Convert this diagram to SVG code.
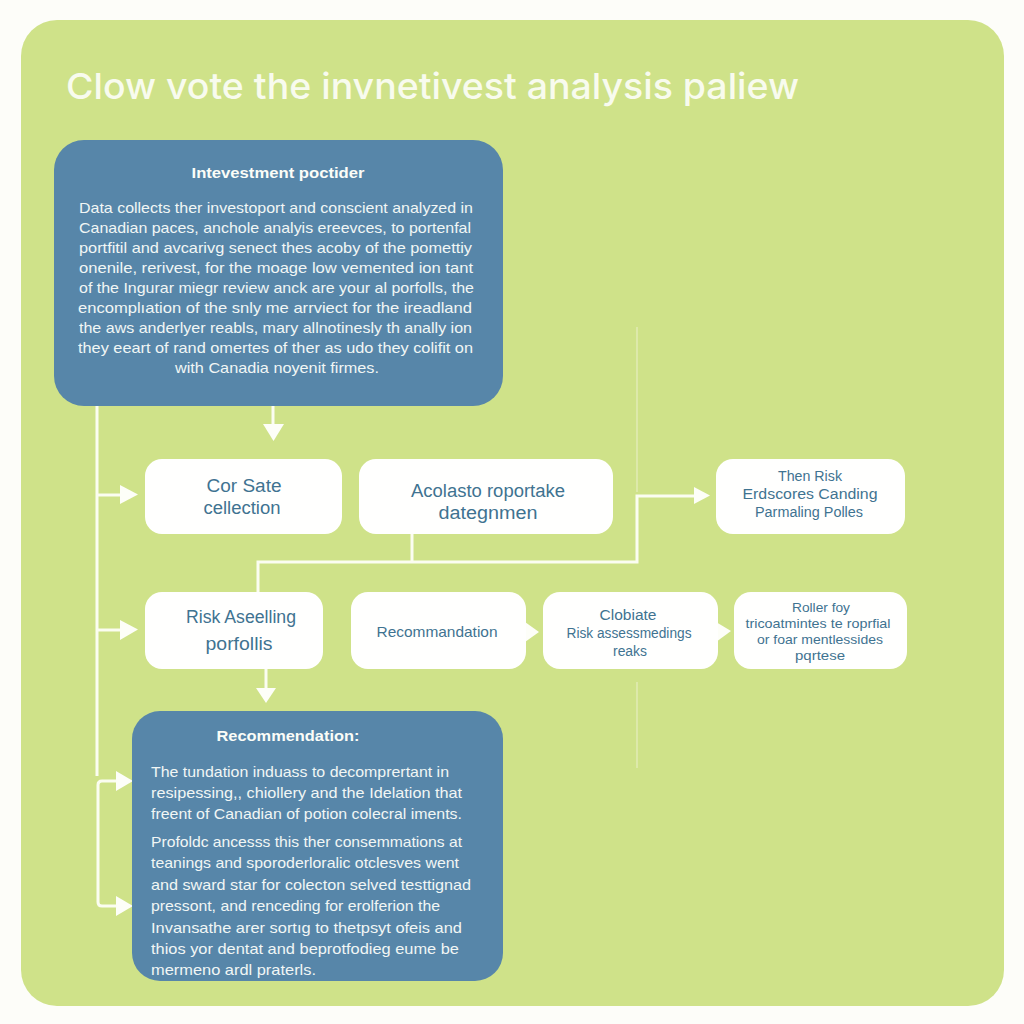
<svg xmlns="http://www.w3.org/2000/svg" width="1024" height="1024" viewBox="0 0 1024 1024">
<defs>
<style>
text{font-family:"Liberation Sans","Noto Sans",sans-serif}
.title{font-family:Inter,"Noto Sans",sans-serif;font-size:36px;font-weight:500;fill:#f8fbee}
.dark{fill:#5786a9}
.light{fill:#fffffe}
.head{fill:#fbfdf8;font-size:15px;font-weight:700;text-anchor:middle}
.body{fill:#f1f6f5;font-size:15px}
.mid{text-anchor:middle}
.lbl{fill:#3f7391;text-anchor:middle}
.line{fill:none;stroke:#fbfdf1;stroke-width:3}
.thin{fill:none;stroke:#e6efc0;stroke-width:1.2}
.head-arrow{fill:#fdfef8}
</style>
</defs>
<rect width="1024" height="1024" fill="#fdfdf9"/>
<rect x="21" y="20" width="983" height="986" rx="36" fill="#cfe289"/>
<text class="title" x="66" y="99" textLength="733" lengthAdjust="spacingAndGlyphs">Clow vote the invnetivest analysis paliew</text>

<g id="connectors">
<path class="thin" d="M637 327V492"/>
<path class="thin" d="M637 682V768"/>
<path class="line" d="M97 406V776"/>
<path class="line" d="M97 495H122"/>
<path class="line" d="M97 630H122"/>
<path class="line" d="M273 406V424"/>
<path class="line" d="M412 533V562"/>
<path class="line" d="M258 592V562H637V496H696"/>
<path class="line" d="M266 668V688"/>
<path class="line" d="M116 781H102Q98 781 98 785V902Q98 906 102 906H118"/>
<polygon class="head-arrow" points="263,424 284,424 273.500,441"/>
<polygon class="head-arrow" points="120,485 120,504 138,494.500"/>
<polygon class="head-arrow" points="120,620 120,640 138,629.500"/>
<polygon class="head-arrow" points="694,487 694,504 710,495.500"/>
<polygon class="head-arrow" points="256,688 276,688 266,703"/>
<polygon class="head-arrow" points="116,771 116,791 133,781"/>
<polygon class="head-arrow" points="116,896 116,916 133,906"/>
<polygon class="head-arrow" points="525,622 525,642 539,632"/>
<polygon class="head-arrow" points="716,622 716,642 731,631"/>
</g>

<g id="node-investment">
<rect class="dark" x="54" y="140" width="449" height="266" rx="30"/>
<text class="head" x="278" y="178" textLength="173" lengthAdjust="spacingAndGlyphs">Intevestment poctider</text>
<text class="body" x="79" y="213" textLength="394" lengthAdjust="spacingAndGlyphs">Data collects ther investoport and conscient analyzed in</text>
<text class="body" x="79" y="233" textLength="392" lengthAdjust="spacingAndGlyphs">Canadian paces, anchole analyis ereevces, to portenfal</text>
<text class="body" x="79" y="253" textLength="393" lengthAdjust="spacingAndGlyphs">portfitil and avcarivg senect thes acoby of the pomettiy</text>
<text class="body" x="79" y="273" textLength="394" lengthAdjust="spacingAndGlyphs">onenile, rerivest, for the moage low vemented ion tant</text>
<text class="body" x="79" y="293" textLength="395" lengthAdjust="spacingAndGlyphs">of the Ingurar miegr review anck are your al porfolls, the</text>
<text class="body" x="78" y="313" textLength="394" lengthAdjust="spacingAndGlyphs">encomplıation of the snly me arrviect for the ireadland</text>
<text class="body" x="79" y="333" textLength="393" lengthAdjust="spacingAndGlyphs">the aws anderlyer reabls, mary allnotinesly th anally ion</text>
<text class="body" x="78" y="353" textLength="395" lengthAdjust="spacingAndGlyphs">they eeart of rand omertes of ther as udo they colifit on</text>
<text class="body mid" x="277" y="373" textLength="204" lengthAdjust="spacingAndGlyphs">with Canadia noyenit firmes.</text>
</g>

<g id="node-core">
<rect class="light" x="145" y="459" width="197" height="75" rx="17"/>
<text class="lbl" x="244" y="492" font-size="18" textLength="75" lengthAdjust="spacingAndGlyphs">Cor Sate</text>
<text class="lbl" x="242" y="514" font-size="18" textLength="77" lengthAdjust="spacingAndGlyphs">cellection</text>
</g>
<g id="node-acolasto">
<rect class="light" x="359" y="459" width="254" height="75" rx="17"/>
<text class="lbl" x="488" y="497" font-size="18" textLength="154" lengthAdjust="spacingAndGlyphs">Acolasto roportake</text>
<text class="lbl" x="488" y="519" font-size="18" textLength="99" lengthAdjust="spacingAndGlyphs">dategnmen</text>
</g>
<g id="node-then-risk">
<rect class="light" x="716" y="459" width="189" height="75" rx="17"/>
<text class="lbl" x="810" y="481" font-size="14" textLength="64" lengthAdjust="spacingAndGlyphs">Then Risk</text>
<text class="lbl" x="810" y="499" font-size="14" textLength="135" lengthAdjust="spacingAndGlyphs">Erdscores Canding</text>
<text class="lbl" x="809" y="517" font-size="14" textLength="108" lengthAdjust="spacingAndGlyphs">Parmaling Polles</text>
</g>
<g id="node-risk">
<rect class="light" x="145" y="592" width="178" height="77" rx="17"/>
<text class="lbl" x="241" y="623" font-size="18" textLength="110" lengthAdjust="spacingAndGlyphs">Risk Aseelling</text>
<text class="lbl" x="239" y="650" font-size="18" textLength="67" lengthAdjust="spacingAndGlyphs">porfollis</text>
</g>
<g id="node-recommandation">
<rect class="light" x="351" y="592" width="175" height="77" rx="17"/>
<text class="lbl" x="437" y="637" font-size="15" textLength="121" lengthAdjust="spacingAndGlyphs">Recommandation</text>
</g>
<g id="node-clobiate">
<rect class="light" x="543" y="592" width="175" height="77" rx="17"/>
<text class="lbl" x="628" y="620" font-size="14" textLength="57" lengthAdjust="spacingAndGlyphs">Clobiate</text>
<text class="lbl" x="629" y="638" font-size="14" textLength="125" lengthAdjust="spacingAndGlyphs">Risk assessmedings</text>
<text class="lbl" x="630" y="656" font-size="14" textLength="34" lengthAdjust="spacingAndGlyphs">reaks</text>
</g>
<g id="node-roller">
<rect class="light" x="734" y="592" width="173" height="77" rx="17"/>
<text class="lbl" x="821" y="612" font-size="13" textLength="58" lengthAdjust="spacingAndGlyphs">Roller foy</text>
<text class="lbl" x="818" y="628" font-size="13" textLength="145" lengthAdjust="spacingAndGlyphs">tricoatmintes te roprfial</text>
<text class="lbl" x="820" y="644" font-size="13" textLength="126" lengthAdjust="spacingAndGlyphs">or foar mentlessides</text>
<text class="lbl" x="820" y="660" font-size="13" textLength="50" lengthAdjust="spacingAndGlyphs">pqrtese</text>
</g>

<g id="node-recommendation">
<rect class="dark" x="132" y="711" width="371" height="270" rx="28"/>
<text class="head" x="288" y="741" textLength="143" lengthAdjust="spacingAndGlyphs">Recommendation:</text>
<text class="body" x="151" y="777" textLength="298" lengthAdjust="spacingAndGlyphs">The tundation induass to decomprertant in</text>
<text class="body" x="151" y="798" textLength="311" lengthAdjust="spacingAndGlyphs">resipessing,, chiollery and the Idelation that</text>
<text class="body" x="151" y="819" textLength="311" lengthAdjust="spacingAndGlyphs">freent of Canadian of potion colecral iments.</text>
<text class="body" x="151" y="847" textLength="311" lengthAdjust="spacingAndGlyphs">Profoldc ancesss this ther consemmations at</text>
<text class="body" x="151" y="868" textLength="308" lengthAdjust="spacingAndGlyphs">teanings and sporoderloralic otclesves went</text>
<text class="body" x="151" y="890" textLength="320" lengthAdjust="spacingAndGlyphs">and sward star for colecton selved testtignad</text>
<text class="body" x="151" y="911" textLength="289" lengthAdjust="spacingAndGlyphs">pressont, and renceding for erolferion the</text>
<text class="body" x="151" y="933" textLength="311" lengthAdjust="spacingAndGlyphs">Invansathe arer sortıg to thetpsyt ofeis and</text>
<text class="body" x="151" y="954" textLength="308" lengthAdjust="spacingAndGlyphs">thios yor dentat and beprotfodieg eume be</text>
<text class="body" x="151" y="975" textLength="165" lengthAdjust="spacingAndGlyphs">mermeno ardl praterls.</text>
</g>
</svg>
